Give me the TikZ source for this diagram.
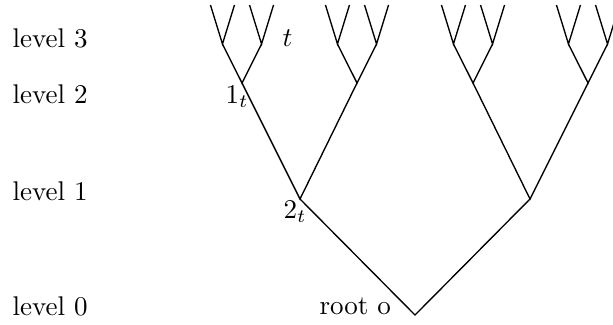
\documentclass[tikz,border=0pt]{standalone}
\usetikzlibrary{positioning}
\begin{document}
\begin{tikzpicture}[
    lvl/.style={anchor=base west, inner sep=0pt},
    lab/.style={anchor=base west, inner sep=0pt},
    branch/.style={line width=0.5pt}
  ]
  \useasboundingbox (0,0) rectangle (7.969,4.212);
  \clip (0,0) rectangle (7.969,4.212);
  % level heights
  \def\yA{0.117} \def\yB{1.625} \def\yC{3.133}

  % level labels
  \node[lvl] (l3) at (0.156,3.601) {level 3};
  \node[lvl] (l2) at (0.156,2.873) {level 2};
  \node[lvl] (l1) at (0.156,1.612) {level 1};
  \node[lvl] (l0) at (0.156,0.117) {level 0};

  % root, level 1, level 2
  \coordinate (o)  at (5.395,\yA);
  \coordinate (a1) at (3.900,\yB);
  \coordinate (a2) at (6.890,\yB);
  \coordinate (b1) at (3.146,\yC);
  \coordinate (b2) at (4.641,\yC);
  \coordinate (b3) at (6.149,\yC);
  \coordinate (b4) at (7.644,\yC);

  \draw[branch] (a1) -- (o) -- (a2);
  \draw[branch] (b1) -- (a1) -- (b2);
  \draw[branch] (b3) -- (a2) -- (b4);

  % levels 3 and 4
  \foreach \i in {1,...,4}{
    \path (b\i) ++(-0.254,0.507) coordinate (c\i a)
          (b\i) ++(0.254,0.507) coordinate (c\i b);
    \draw[branch] (c\i a) -- (b\i) -- (c\i b);
    \foreach \s in {a,b}{
      \path (c\i\s) ++(-0.156,0.507) coordinate (d\i\s a)
            (c\i\s) ++(0.156,0.507) coordinate (d\i\s b);
      \draw[branch] (d\i\s a) -- (c\i\s) -- (d\i\s b);
    }
  }

  % labels
  \node[lab] (t)  at (3.666,3.614) {$t$};
  \node[lab] (t1) at (2.925,2.873) {$1_t$};
  \node[lab] (t2) at (3.679,1.378) {$2_t$};
  \node[lab] (ro) at (4.147,0.130) {root o};
\end{tikzpicture}
\end{document}
